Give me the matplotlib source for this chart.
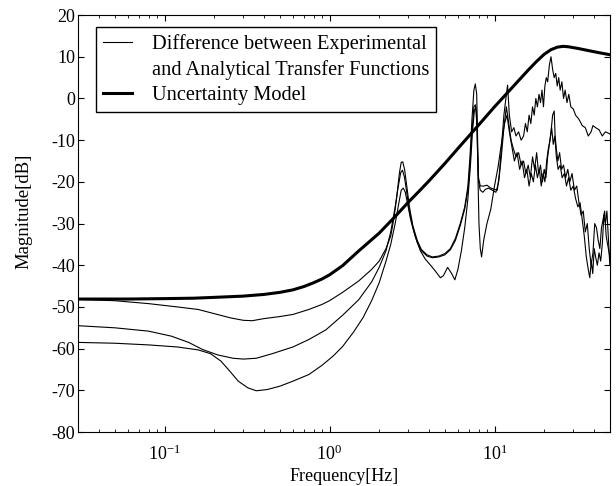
import matplotlib
matplotlib.use('Agg')
import matplotlib.pyplot as plt
from matplotlib.lines import Line2D

plt.rcParams['font.family'] = ['Liberation Serif', 'DejaVu Serif']
plt.rcParams['mathtext.fontset'] = 'custom'
plt.rcParams['mathtext.rm'] = 'Liberation Serif'
plt.rcParams['axes.unicode_minus'] = False

# uncertainty model (thick line)
f_model = [0.03, 0.06, 0.1, 0.15, 0.2, 0.3, 0.4, 0.5, 0.6, 0.7, 0.8, 0.9, 1.0, 1.2,
           1.5, 2.0, 2.5, 3.0, 3.5, 4.0, 5.0, 6.0, 7.0, 8.0, 10.0, 12.0, 14.0, 16.0,
           18.0, 20.0, 22.0, 24.0, 26.0, 28.0, 32.0, 38.0, 44.0, 50.0]
db_model = [-48.1, -48.1, -48.0, -47.9, -47.7, -47.4, -47.0, -46.5, -45.9, -45.1, -44.2,
            -43.3, -42.3, -40.1, -36.6, -32.3, -28.3, -24.9, -22.2, -19.8, -15.6, -12.0,
            -9.0, -6.4, -2.0, 1.4, 4.3, 6.8, 8.9, 10.6, 11.7, 12.3, 12.5, 12.4, 12.0,
            11.4, 10.9, 10.5]

# difference curve A (upper)
f_a = [0.03, 0.05, 0.08, 0.12, 0.16, 0.2, 0.25, 0.3, 0.34, 0.4, 0.5, 0.6, 0.75, 0.9,
       1.0, 1.2, 1.5, 1.8, 2.0, 2.2, 2.35, 2.45, 2.55, 2.65, 2.72, 2.78, 2.85, 2.95,
       3.05, 3.2, 3.4, 3.6, 3.9, 4.2, 4.6, 5.0, 5.4, 5.8, 6.2, 6.6, 6.9, 7.1, 7.3,
       7.5, 7.65, 7.8, 7.9, 8.0, 8.2, 8.6, 9.0, 9.5, 10.0, 10.4, 10.7, 11.0, 11.4,
       11.8, 12.0, 12.3, 12.7, 13.1, 13.5, 14.0, 14.5, 15.0, 15.4, 15.8, 16.2, 16.6,
       17.0, 17.4, 17.8, 18.2, 18.6, 19.0, 19.4, 19.8, 20.2, 20.6, 21.0, 21.5, 22.0,
       22.5, 23.0, 23.5, 24.0, 24.5, 25.0, 25.6, 26.2, 26.8, 27.5, 28.2, 29.0, 30.0,
       31.0, 32.5, 34.0, 35.5, 37.0, 38.5, 39.5, 41.0, 43.0, 45.0, 47.0, 50.0]
db_a = [-48.2, -48.5, -49.2, -50.0, -50.6, -51.6, -52.6, -53.2, -53.3, -52.8, -52.3,
        -51.8, -50.6, -49.4, -48.5, -46.5, -43.8, -41.0, -39.0, -36.0, -33.0, -29.0,
        -24.0, -18.0, -15.3, -15.2, -17.0, -21.5, -26.0, -30.5, -34.0, -36.2, -37.5,
        -38.0, -37.8, -37.2, -36.0, -33.5, -30.0, -26.0, -21.0, -14.0, -5.0, 2.0, 3.5,
        1.0, -10.0, -19.0, -21.0, -21.0, -20.8, -21.5, -21.8, -22.0, -18.0, -12.0,
        -4.0, 1.0, 3.2, -4.0, -8.0, -7.0, -9.0, -8.0, -10.0, -9.0, -6.0, -8.0, -4.0,
        -6.0, -2.0, -4.0, 0.0, -2.0, 1.0, -1.0, 2.0, -2.0, 3.0, 5.0, 4.0, 8.0, 10.0,
        7.0, 5.0, 6.0, 3.0, 5.0, 2.0, 4.0, 0.0, 2.0, -1.0, 1.0, -2.0, -2.5, -4.0, -5.0,
        -6.5, -7.0, -9.0, -8.0, -6.5, -7.0, -7.5, -9.0, -8.0, -8.5]

# difference curve B (middle)
f_b = [0.03, 0.05, 0.08, 0.11, 0.14, 0.17, 0.21, 0.26, 0.3, 0.36, 0.45, 0.6, 0.75,
       0.95, 1.2, 1.5, 1.8, 2.0, 2.2, 2.35, 2.5, 2.6, 2.7, 2.77, 2.85, 2.95, 3.05,
       3.2, 3.4, 3.6, 3.9, 4.2, 4.6, 5.0, 5.4, 5.8, 6.2, 6.6, 6.9, 7.1, 7.3, 7.5,
       7.65, 7.8, 7.9, 8.0, 8.2, 8.5, 8.8, 9.2, 9.7, 10.2, 10.6, 11.0, 11.4, 11.8,
       12.2, 12.6, 13.0, 13.5, 14.0, 14.5, 15.0, 15.5, 16.0, 16.5, 17.0, 17.5, 18.0,
       18.5, 19.0, 19.5, 20.0, 20.5, 21.0, 21.5, 22.0, 22.5, 23.0, 23.3, 23.7, 24.2,
       24.8, 25.5, 26.2, 27.0, 27.8, 28.6, 29.5, 30.5, 31.5, 32.5, 33.5, 34.5, 35.5,
       36.5, 37.5, 38.5, 39.5, 40.5, 41.5, 42.5, 43.5, 44.5, 45.5, 46.5, 47.5, 50.0]
db_b = [-54.5, -55.0, -55.8, -57.0, -58.5, -60.2, -61.5, -62.3, -62.5, -62.3, -61.2,
        -59.6, -57.8, -55.5, -52.0, -48.3, -44.0, -40.5, -36.5, -32.0, -26.0, -21.5,
        -17.8, -17.2, -19.0, -23.0, -27.0, -31.0, -34.5, -36.5, -37.8, -38.2, -38.0,
        -37.5, -36.3, -34.0, -30.5, -26.5, -22.0, -16.0, -8.0, -2.0, -1.5, -4.0,
        -13.0, -20.0, -22.0, -22.5, -21.8, -21.5, -22.0, -22.5, -20.0, -14.0, -7.0,
        -2.0, -6.0, -10.0, -12.0, -14.0, -13.0, -16.0, -15.0, -18.0, -16.0, -19.0,
        -14.0, -17.0, -13.0, -18.0, -16.0, -20.0, -17.0, -19.0, -14.0, -11.0, -8.0,
        -4.0, -3.0, -9.0, -12.0, -15.0, -13.0, -17.0, -16.0, -19.0, -17.0, -20.0,
        -18.0, -22.0, -21.0, -25.0, -28.0, -27.0, -32.0, -30.0, -36.0, -40.0, -37.0,
        -30.0, -31.0, -34.0, -36.0, -31.0, -29.0, -27.0, -33.0, -38.0]

# difference curve C (lower)
f_c = [0.03, 0.05, 0.08, 0.12, 0.16, 0.19, 0.22, 0.25, 0.28, 0.32, 0.36, 0.42, 0.5,
       0.6, 0.75, 0.9, 1.05, 1.2, 1.4, 1.6, 1.8, 2.0, 2.2, 2.35, 2.5, 2.62, 2.72,
       2.8, 2.88, 2.98, 3.1, 3.3, 3.55, 3.8, 4.1, 4.4, 4.7, 4.9, 5.2, 5.5, 5.75,
       6.0, 6.3, 6.6, 6.9, 7.15, 7.35, 7.55, 7.7, 7.85, 7.95, 8.05, 8.2, 8.35, 8.6,
       9.0, 9.5, 10.0, 10.5, 11.0, 11.5, 11.9, 12.3, 12.8, 13.2, 13.7, 14.2, 14.7,
       15.2, 15.7, 16.2, 16.7, 17.2, 17.7, 18.2, 18.7, 19.2, 19.7, 20.2, 20.7, 21.2,
       21.7, 22.2, 22.7, 23.2, 23.7, 24.3, 25.0, 25.7, 26.5, 27.3, 28.1, 29.0, 30.0,
       31.0, 32.0, 33.0, 34.0, 35.0, 36.0, 37.0, 37.8, 38.6, 39.4, 40.2, 41.0, 42.0,
       43.0, 44.0, 45.0, 46.0, 47.0, 48.0, 50.0]
db_c = [-58.5, -58.7, -59.1, -59.6, -60.3, -61.2, -63.0, -65.5, -67.8, -69.4, -70.1,
        -69.8, -69.0, -67.8, -66.2, -64.0, -61.8, -59.5, -56.0, -52.5, -48.5, -44.2,
        -39.0, -35.0, -30.0, -25.5, -22.0, -21.5, -22.5, -25.5, -29.0, -33.0, -36.5,
        -38.5, -40.0, -41.5, -43.0, -42.5, -40.5, -42.0, -43.5, -41.0, -36.5, -31.0,
        -24.0, -16.0, -8.0, -3.0, -2.0, -8.0, -20.0, -30.0, -36.0, -38.0, -34.0,
        -30.0, -26.5, -21.0, -16.5, -11.0, -6.0, -4.0, -8.0, -12.0, -15.0, -13.0,
        -17.0, -15.0, -19.0, -17.0, -21.0, -18.0, -20.0, -16.0, -19.0, -17.0, -21.0,
        -18.0, -20.0, -15.0, -12.0, -10.0, -7.0, -11.0, -9.0, -14.0, -17.0, -16.0,
        -19.0, -18.0, -21.0, -19.0, -22.0, -21.0, -24.0, -26.0, -25.0, -29.0, -33.0,
        -38.0, -41.0, -43.0, -39.0, -42.0, -36.0, -38.0, -40.0, -37.0, -39.0, -35.0,
        -28.0, -30.0, -27.0, -40.0]

fig = plt.figure(figsize=(6.16, 4.86), dpi=100)
ax = fig.add_axes([0.127, 0.111, 0.863, 0.858])

for f, d in [(f_a, db_a), (f_b, db_b), (f_c, db_c)]:
    ax.plot(f, d, color='black', lw=0.8)
ax.plot(f_model, db_model, color='black', lw=2.2)

ax.set_xscale('log')
ax.set_xlim(0.03, 50)
ax.set_ylim(-80, 20)
ax.set_yticks(range(-80, 21, 10))
ax.tick_params(which='both', direction='in', top=True, right=True, labelsize=13)
ax.tick_params(which='major', length=4, pad=2)
ax.tick_params(which='minor', length=2)
ax.tick_params(axis='x', pad=9)

ax.set_xlabel('Frequency[Hz]', fontsize=13, labelpad=3)
ax.set_ylabel('Magnitude[dB]', fontsize=13.5)
ax.yaxis.set_label_coords(-0.086, 0.53)

handles = [Line2D([], [], color='black', lw=0.8),
           Line2D([], [], color='none'),
           Line2D([], [], color='black', lw=2.2)]
labels = ['Difference between Experimental',
          'and Analytical Transfer Functions',
          'Uncertainty Model']
ax.legend(handles, labels, loc='upper left', bbox_to_anchor=(0.033, 0.971),
          borderaxespad=0, fontsize=14.7, frameon=True, fancybox=False,
          edgecolor='black', framealpha=1, handlelength=1.4, handletextpad=1.0,
          labelspacing=0.28, borderpad=0.35)

fig.savefig('out.png', dpi=100)
